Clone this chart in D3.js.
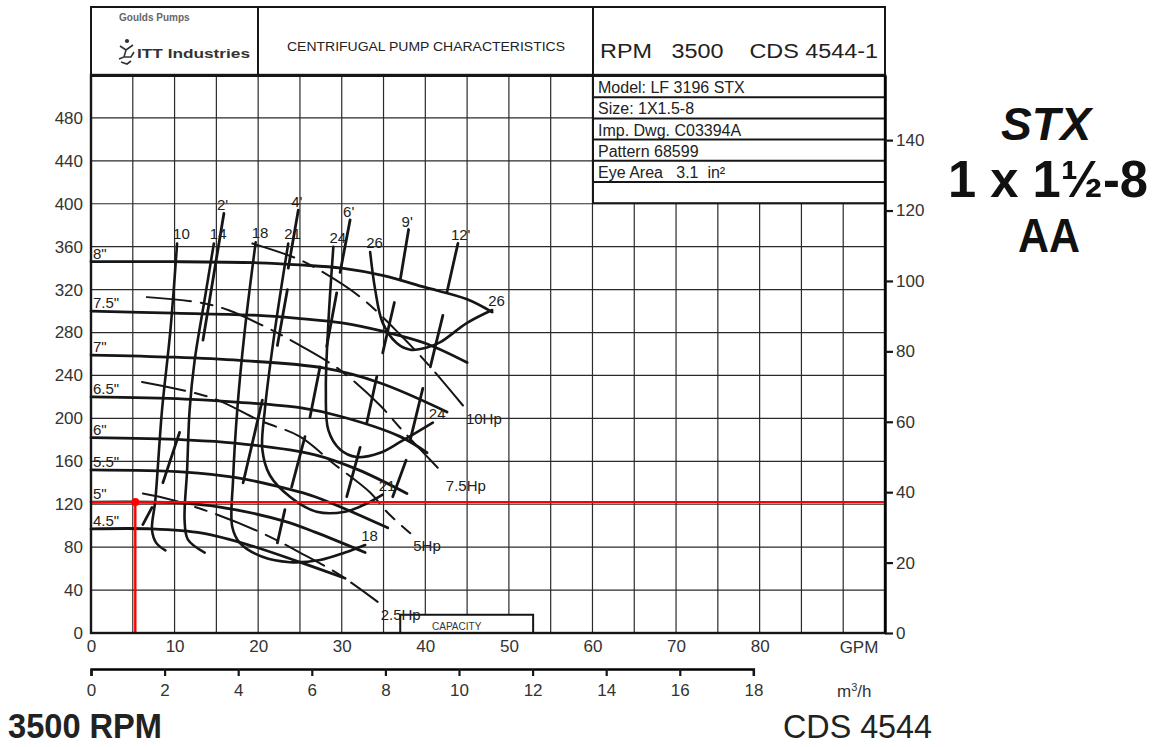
<!DOCTYPE html>
<html>
<head>
<meta charset="utf-8">
<script src="https://cdn.jsdelivr.net/npm/d3@7"></script>
<style>
body { margin: 0; background: #fff; }
svg { display: block; font-family: "Liberation Sans", Arial, sans-serif; }
</style>
</head>
<body>
<svg width="1158" height="747"></svg>
<script>
// head curves per impeller diameter, [gpm, ft]
var impellerNames = ['8"', '7.5"', '7"', '6.5"', '6"', '5.5"', '5"', '4.5"'];
var head8 = [[0, 346], [10, 346], [20, 345], [25, 343], [30, 340], [35, 333], [40, 322], [45, 311], [48, 299]];
var head75 = [[0, 300], [10, 298], [20, 296], [25, 293], [30, 289], [35, 281], [40, 270], [45, 252]];
var head7 = [[0, 259], [10, 257], [17.8, 254], [27.8, 247], [34.6, 233], [42.6, 206]];
var head65 = [[0, 220], [11.2, 218], [17.8, 215], [25, 210], [29.8, 202], [37, 183], [40.2, 168]];
var head6 = [[0, 182], [11.2, 180], [17.2, 177], [26.8, 166], [32, 152], [37.8, 130]];
var head55 = [[0, 152], [11.2, 150], [17.2, 145], [23.2, 135], [26.8, 127], [35.5, 98]];
var head5 = [[0, 122], [11.2, 121], [17.2, 115], [23.2, 104], [26.8, 94], [32.8, 75]];
var head45 = [[0, 97], [7.3, 97], [13.3, 93], [19.3, 81], [25, 66], [30.4, 51]];
var headCurves = [head8, head75, head7, head65, head6, head55, head5, head45];

// efficiency contours (%)
var effNames = ["10", "14", "18", "21", "24", "26"];
var eff10 = [[10.3, 363], [9.5, 282], [8.5, 208], [7.7, 124], [7.3, 96], [7.8, 84], [8.9, 77]];
var eff14 = [[14.7, 363], [13.6, 311], [12.4, 254], [11.8, 208], [11.5, 152], [11.2, 105], [11.6, 87], [13.6, 75]];
var eff18 = [[19.7, 364], [18.4, 282], [17.5, 208], [17.0, 143], [16.9, 99], [17.8, 84], [20.5, 71], [23.8, 66], [27.4, 68], [30.4, 75], [32.8, 82]];
var eff21 = [[23.6, 363], [22.0, 282], [20.8, 208], [20.5, 171], [21.4, 147], [23.8, 127], [27.0, 113], [30.4, 113], [32.8, 120], [34.9, 129]];
var eff24 = [[29.0, 360], [28.4, 289], [28.1, 226], [28.4, 189], [29.8, 171], [31.8, 164], [34.6, 168], [37.0, 178], [40.9, 196]];
var eff26 = [[33.4, 355], [34.0, 320], [34.9, 289], [36.6, 270], [38.2, 264], [40.2, 266], [41.8, 271], [45.0, 289], [48.0, 301]];
var effCurves = [eff10, eff14, eff18, eff21, eff24, eff26];
var effEndLabel = [false, false, true, true, true, true];

// NPSH required (ft), drawn as short segments
var npshNames = ["2'", "4'", "6'", "9'", "12'"];
var npsh2 = [[[15.9, 391], [13.4, 273]], [[10.6, 187], [8.6, 140]], [[7.3, 117], [6.2, 101]]];
var npsh4 = [[[24.8, 394], [23.6, 340]], [[23.5, 320], [22.3, 268]], [[20.5, 217], [18.2, 140]]];
var npsh6 = [[[31.0, 385], [29.8, 336]], [[29.4, 317], [28.2, 267]], [[27.4, 248], [26.2, 201]], [[25.6, 183], [24.0, 136]], [[23.2, 115], [22.3, 84]]];
var npsh9 = [[[38.0, 376], [37.0, 329]], [[36.3, 308], [34.9, 261]], [[34.2, 239], [33.0, 196]], [[32.2, 173], [30.6, 127]]];
var npsh12 = [[[43.9, 363], [42.6, 318]], [[42.1, 296], [40.6, 248]], [[39.7, 228], [38.2, 180]], [[37.7, 161], [36.1, 127]]];
var npshCurves = [npsh2, npsh4, npsh6, npsh9, npsh12];

// brake horsepower lines
var hpNames = ["10Hp", "7.5Hp", "5Hp", "2.5Hp"];
var hp10 = [[19.3, 363], [24.6, 349], [27.8, 336], [32.4, 312], [37.0, 278], [40.6, 248], [44.5, 212]];
var hp75 = [[6.7, 313], [13.0, 308], [16.4, 301], [21.7, 282], [25, 268], [29.8, 245], [34.6, 212], [37, 191], [42.1, 149]];
var hp5 = [[6.1, 234], [14.5, 219], [20.2, 198], [25, 183], [29, 158], [33.4, 131], [35.5, 112], [38.2, 93]];
var hp25 = [[6.2, 130], [9.7, 124], [15.2, 110], [20.5, 93], [25, 75], [29.8, 54], [34.3, 29]];
var hpCurves = [hp10, hp75, hp5, hp25];

// operating point
var opGpm = 5.3;
var opHead = 122;

// axis ticks
var gpmTicks = [0, 10, 20, 30, 40, 50, 60, 70, 80];
var ftTicks = [0, 40, 80, 120, 160, 200, 240, 280, 320, 360, 400, 440, 480];
var mTicks = [0, 20, 40, 60, 80, 100, 120, 140];
var m3hTicks = [0, 2, 4, 6, 8, 10, 12, 14, 16, 18];

var infoRows = ["Model: LF 3196 STX", "Size: 1X1.5-8", "Imp. Dwg. C03394A", "Pattern 68599", "Eye Area   3.1  in\u00b2", ""];

var x = d3.scaleLinear().domain([0, 95]).range([91, 885]);
var y = d3.scaleLinear().domain([0, 520]).range([633, 75]);
var yM = d3.scaleLinear().domain([0, 520 / 3.2808]).range([633, 75]);
var xM = d3.scaleLinear().domain([0, 18]).range([91, x(18 / 0.22712)]);

var svg = d3.select("svg");
var ink = "#161616";

function drawGrid() {
    var g = svg.append("g");
    g.selectAll(".v").data(d3.range(5, 95, 5)).enter()
        .append("line")
        .attr("x1", function(d) { return x(d); })
        .attr("x2", function(d) { return x(d); })
        .attr("y1", y(0)).attr("y2", y(520))
        .attr("stroke", "#2a2a2a").attr("stroke-width", 1.2);
    g.selectAll(".h").data(d3.range(40, 520, 40)).enter()
        .append("line")
        .attr("x1", x(0)).attr("x2", x(95))
        .attr("y1", function(d) { return y(d); })
        .attr("y2", function(d) { return y(d); })
        .attr("stroke", "#2a2a2a").attr("stroke-width", 1.2);
}

function drawHeader() {
    var g = svg.append("g");
    g.append("rect").attr("x", 91).attr("y", 7).attr("width", 794).attr("height", 69)
        .attr("fill", "#fff").attr("stroke", ink).attr("stroke-width", 2);
    g.append("line").attr("x1", 258).attr("x2", 258).attr("y1", 7).attr("y2", 76)
        .attr("stroke", ink).attr("stroke-width", 2);
    g.append("line").attr("x1", 593).attr("x2", 593).attr("y1", 7).attr("y2", 76)
        .attr("stroke", ink).attr("stroke-width", 2);

    g.append("text").attr("x", 119).attr("y", 21).text("Goulds Pumps")
        .attr("font-size", "10px").attr("font-weight", "bold").attr("fill", "#666");
    // little ITT figure
    var logo = g.append("g").attr("fill", "none").attr("stroke", "#333").attr("stroke-width", 1.6);
    logo.append("circle").attr("cx", 127).attr("cy", 41).attr("r", 1.3).attr("fill", "#333");
    logo.append("path").attr("d", "M120,46 L126,50 L133,45 M126,50 L124,57 L119,59 M124,57 L131,57 L134,52 M121,62 L127,64 L131,61");
    g.append("text").attr("x", 137).attr("y", 58).text("ITT Industries")
        .attr("font-size", "12px").attr("font-weight", "bold").attr("fill", "#333")
        .attr("textLength", 113).attr("lengthAdjust", "spacingAndGlyphs");

    g.append("text").attr("x", 426).attr("y", 51).text("CENTRIFUGAL PUMP CHARACTERISTICS")
        .attr("text-anchor", "middle").attr("font-size", "12.5px").attr("fill", "#222")
        .attr("textLength", 278).attr("lengthAdjust", "spacingAndGlyphs");
    g.append("text").attr("x", 600).attr("y", 58).text("RPM   3500    CDS 4544-1")
        .attr("font-size", "20px").attr("fill", "#222").style("white-space", "pre")
        .attr("textLength", 278).attr("lengthAdjust", "spacingAndGlyphs");

    // info table
    var rowH = 21.2;
    var t = svg.append("g");
    t.append("rect").attr("x", 593).attr("y", 76).attr("width", 292).attr("height", rowH * infoRows.length)
        .attr("fill", "#fff").attr("stroke", ink).attr("stroke-width", 2);
    t.selectAll("line").data(infoRows.slice(1)).enter()
        .append("line")
        .attr("x1", 593).attr("x2", 885)
        .attr("y1", function(d, i) { return 76 + rowH * (i + 1); })
        .attr("y2", function(d, i) { return 76 + rowH * (i + 1); })
        .attr("stroke", ink).attr("stroke-width", 2);
    t.selectAll("text").data(infoRows).enter()
        .append("text")
        .attr("x", 598)
        .attr("y", function(d, i) { return 76 + rowH * (i + 1) - 4; })
        .text(function(d) { return d; })
        .attr("font-size", "16px").attr("fill", "#222").style("white-space", "pre");
}

function drawCurves() {
    var line = d3.line()
        .x(function(d) { return x(d[0]); })
        .y(function(d) { return y(d[1]); })
        .curve(d3.curveCatmullRom.alpha(0.5));
    var g = svg.append("g").attr("fill", "none").attr("stroke", ink).attr("stroke-linecap", "round");

    g.selectAll(".hp").data(hpCurves).enter()
        .append("path").attr("d", line)
        .attr("stroke-width", 2).attr("stroke-dasharray", "44,10,12,10");
    g.selectAll(".head").data(headCurves).enter()
        .append("path").attr("d", line).attr("stroke-width", 2.8);
    g.selectAll(".eff").data(effCurves).enter()
        .append("path").attr("d", line).attr("stroke-width", 2.6);
    npshCurves.forEach(function(segs) {
        g.selectAll(null).data(segs).enter()
            .append("path").attr("d", line).attr("stroke-width", 2.8);
    });

    // capacity box
    svg.append("rect").attr("x", x(37)).attr("y", y(17)).attr("width", x(52.9) - x(37)).attr("height", y(0) - y(17))
        .attr("fill", "#fff").attr("stroke", ink).attr("stroke-width", 2);
    svg.append("text").attr("x", (x(37) + x(52.9)) / 2 - 10).attr("y", y(2.5)).text("CAPACITY")
        .attr("text-anchor", "middle").attr("font-size", "10px").attr("fill", "#333");
}

function drawCurveLabels() {
    var g = svg.append("g").attr("font-size", "15px").attr("fill", "#222");
    g.selectAll(".il").data(headCurves).enter()
        .append("text")
        .attr("x", x(0) + 2)
        .attr("y", function(d) { return y(d[0][1]) - 3; })
        .text(function(d, i) { return impellerNames[i]; });
    g.selectAll(".et").data(effCurves).enter()
        .append("text")
        .attr("x", function(d) { return x(d[0][0]) - 4; })
        .attr("y", function(d) { return y(d[0][1]) - 4; })
        .text(function(d, i) { return effNames[i]; });
    g.selectAll(".ee").data(effCurves).enter()
        .filter(function(d, i) { return effEndLabel[i]; })
        .append("text")
        .attr("x", function(d) { return x(d[d.length - 1][0]) - 4; })
        .attr("y", function(d) { return y(d[d.length - 1][1]) - 4; })
        .text(function(d) { return effNames[effCurves.indexOf(d)]; });
    g.selectAll(".nl").data(npshCurves).enter()
        .append("text")
        .attr("x", function(d) { return x(d[0][0][0]) - 7; })
        .attr("y", function(d) { return y(d[0][0][1]) - 3; })
        .text(function(d, i) { return npshNames[i]; });
    g.selectAll(".hl").data(hpCurves).enter()
        .append("text")
        .attr("x", function(d) { return x(d[d.length - 1][0]) + 3; })
        .attr("y", function(d) { return y(d[d.length - 1][1]) + 18; })
        .text(function(d, i) { return hpNames[i]; });
}

function drawOperatingPoint() {
    var g = svg.append("g").attr("stroke", "#ff0000").attr("stroke-width", 2.4);
    g.append("line").attr("x1", x(0)).attr("x2", x(95)).attr("y1", y(opHead)).attr("y2", y(opHead));
    g.append("line").attr("x1", x(opGpm)).attr("x2", x(opGpm)).attr("y1", y(opHead)).attr("y2", y(0));
    svg.append("circle").attr("cx", x(opGpm)).attr("cy", y(opHead)).attr("r", 4).attr("fill", "#ff0000");
}

function drawAxes() {
    // frame
    svg.append("rect").attr("x", x(0)).attr("y", y(520)).attr("width", x(95) - x(0)).attr("height", y(0) - y(520))
        .attr("fill", "none").attr("stroke", ink).attr("stroke-width", 2.4);

    var left = svg.append("g").attr("transform", "translate(" + x(0) + ",0)")
        .call(d3.axisLeft(y).tickValues(ftTicks).tickSize(0).tickPadding(8));
    left.select(".domain").remove();

    var bottom = svg.append("g").attr("transform", "translate(0," + y(0) + ")")
        .call(d3.axisBottom(x).tickValues(gpmTicks).tickSize(0).tickPadding(7));
    bottom.select(".domain").remove();

    var right = svg.append("g").attr("transform", "translate(" + x(95) + ",0)")
        .call(d3.axisRight(yM).tickValues(mTicks).tickSize(8).tickSizeOuter(0).tickPadding(3));
    right.select(".domain").attr("stroke-width", 2.4);

    var metric = svg.append("g").attr("transform", "translate(0,669)")
        .call(d3.axisBottom(xM).tickValues(m3hTicks).tickSize(7).tickSizeOuter(7).tickPadding(8));
    metric.select(".domain").attr("stroke-width", 2.4);

    svg.selectAll(".tick text").attr("font-size", "17px").attr("fill", "#333")
        .attr("font-family", "Liberation Sans, Arial, sans-serif");
    svg.selectAll(".tick line").attr("stroke", ink).attr("stroke-width", 2.2);

    svg.append("text").attr("x", 859).attr("y", 653).text("GPM")
        .attr("text-anchor", "middle").attr("font-size", "17px").attr("fill", "#333");
    var mu = svg.append("text").attr("x", 837).attr("y", 697).attr("font-size", "17px").attr("fill", "#333");
    mu.append("tspan").text("m");
    mu.append("tspan").text("3").attr("font-size", "11px").attr("dy", -6);
    mu.append("tspan").text("/h").attr("dy", 6);
}

function drawTitles() {
    svg.append("text").attr("x", 8).attr("y", 738).text("3500 RPM")
        .attr("font-size", "35px").attr("font-weight", "bold").attr("fill", "#222")
        .attr("textLength", 154).attr("lengthAdjust", "spacingAndGlyphs");
    svg.append("text").attr("x", 783).attr("y", 738).text("CDS 4544")
        .attr("font-size", "34px").attr("fill", "#222")
        .attr("textLength", 149).attr("lengthAdjust", "spacingAndGlyphs");
    svg.append("text").attr("x", 1001).attr("y", 140).text("STX")
        .attr("font-size", "46px").attr("font-weight", "bold").attr("font-style", "italic").attr("fill", "#111")
        .attr("textLength", 90).attr("lengthAdjust", "spacingAndGlyphs");
    svg.append("text").attr("x", 948).attr("y", 197).text("1 x 1\u00bd-8")
        .attr("font-size", "52px").attr("font-weight", "bold").attr("fill", "#111")
        .attr("textLength", 200).attr("lengthAdjust", "spacingAndGlyphs");
    svg.append("text").attr("x", 1018).attr("y", 252).text("AA")
        .attr("font-size", "48px").attr("font-weight", "bold").attr("fill", "#111")
        .attr("textLength", 62).attr("lengthAdjust", "spacingAndGlyphs");
}

svg.append("rect").attr("width", 1158).attr("height", 747).attr("fill", "#fff");
drawGrid();
drawCurves();
drawCurveLabels();
drawOperatingPoint();
drawHeader();
drawAxes();
drawTitles();
</script>
</body>
</html>
